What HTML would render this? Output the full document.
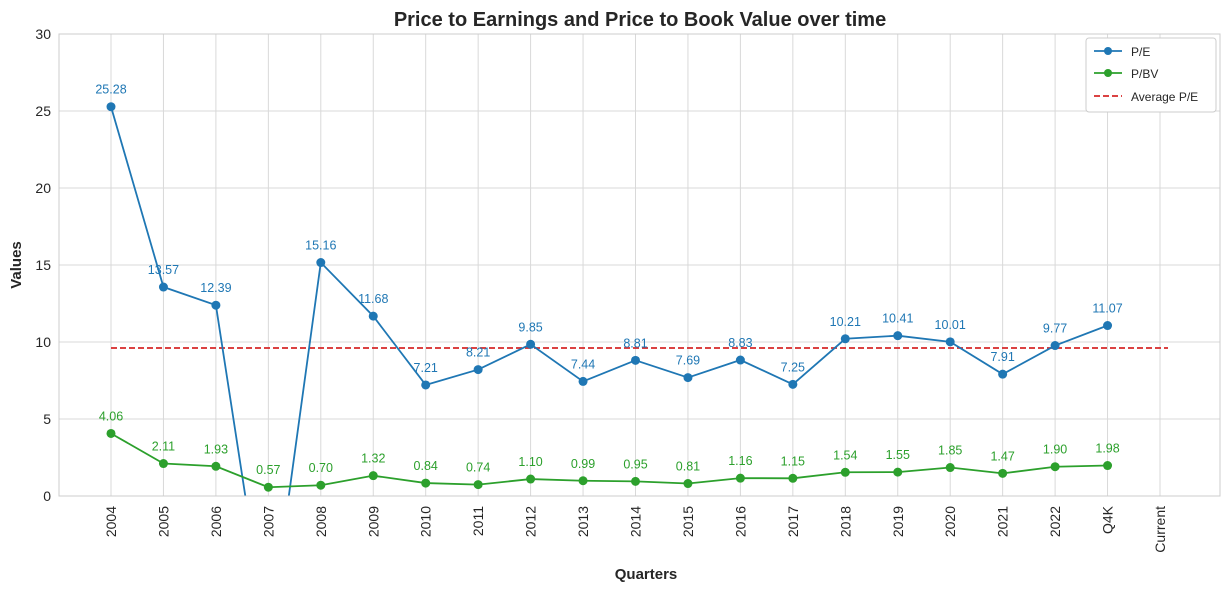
<!DOCTYPE html>
<html><head><meta charset="utf-8"><style>
html,body{margin:0;padding:0;overflow:hidden;background:#fff;font-family:"Liberation Sans",Arial,sans-serif;width:1231px;height:592px}
svg{display:block}
svg text{font-family:"Liberation Sans",Arial,sans-serif}
</style></head><body>
<svg id="chart" width="1231" height="592">
<text x="640" y="26" text-anchor="middle" font-size="20" font-weight="bold" fill="#262626">Price to Earnings and Price to Book Value over time</text>
<g id="grid"></g><g id="marks"></g><g id="axes"></g>
<text x="646" y="579" text-anchor="middle" font-size="15" font-weight="bold" fill="#262626">Quarters</text>
<text transform="translate(21,265) rotate(-90)" text-anchor="middle" font-size="15" font-weight="bold" fill="#262626">Values</text>
<g>
<rect x="1086" y="38" width="130" height="74" rx="3" fill="#fff" stroke="#ccc"/>
<line x1="1094" y1="51" x2="1122" y2="51" stroke="#1f77b4" stroke-width="1.8"/><circle cx="1108" cy="51" r="4" fill="#1f77b4"/>
<text x="1131" y="56" font-size="12" fill="#262626">P/E</text>
<line x1="1094" y1="73" x2="1122" y2="73" stroke="#2ca02c" stroke-width="1.8"/><circle cx="1108" cy="73" r="4" fill="#2ca02c"/>
<text x="1131" y="78" font-size="12" fill="#262626">P/BV</text>
<line x1="1094" y1="96" x2="1122" y2="96" stroke="#d62728" stroke-width="1.8" stroke-dasharray="6,3"/>
<text x="1131" y="101" font-size="12" fill="#262626">Average P/E</text>
</g>
</svg>
<script>
const categories=["2004","2005","2006","2007","2008","2009","2010","2011","2012","2013","2014","2015","2016","2017","2018","2019","2020","2021","2022","Q4K","Current"];
const peValues=[25.28,13.57,12.39,-9.7,15.16,11.68,7.21,8.21,9.85,7.44,8.81,7.69,8.83,7.25,10.21,10.41,10.01,7.91,9.77,11.07,null];
const pbvValues=[4.06,2.11,1.93,0.57,0.70,1.32,0.84,0.74,1.10,0.99,0.95,0.81,1.16,1.15,1.54,1.55,1.85,1.47,1.90,1.98,null];
const avgPE=9.61;
const yTicks=[0,5,10,15,20,25,30];
const NS="http://www.w3.org/2000/svg";
const L=59,R=1220,T=34,B=496;
const x=i=>111+i*(1160-111)/(categories.length-1);
const y=v=>B-(v/30)*(B-T);
function mk(tag,attrs,parent,text){const e=document.createElementNS(NS,tag);for(const k in attrs)e.setAttribute(k,attrs[k]);if(text!==undefined)e.textContent=text;parent.appendChild(e);return e;}
const grid=document.getElementById('grid'),marks=document.getElementById('marks'),axes=document.getElementById('axes');
yTicks.forEach(t=>{mk('line',{x1:L,x2:R,y1:y(t),y2:y(t),stroke:'#d9d9d9'},grid);
const tx=mk('text',{x:L-8,y:y(t)+5,'text-anchor':'end','font-size':14,fill:'#262626'},axes,t);

});
categories.forEach((c,i)=>{mk('line',{x1:x(i),x2:x(i),y1:T,y2:B,stroke:'#d9d9d9'},grid);
const tx=mk('text',{transform:`translate(${x(i)+5},${B+10}) rotate(-90)`,'text-anchor':'end','font-size':14,fill:'#262626'},axes,c);

});
mk('rect',{x:L,y:T,width:R-L,height:B-T,fill:'none',stroke:'#cccccc'},axes);
const g=mk('g',{},marks);
const avg=mk('line',{x1:x(0),x2:x(20)+8,y1:y(avgPE),y2:y(avgPE),stroke:'#d62728','stroke-width':1.8,'stroke-dasharray':'6,3'},g);


function series(vals,color,name){
// build segments clipped to v>=0
let segs=[],cur=[];
for(let i=0;i<vals.length;i++){
 const v=vals[i]; if(v==null)continue;
 const prevI=i-1, pv=prevI>=0?vals[prevI]:null;
 if(pv!=null && (pv<0)!==(v<0)){
  const f=pv/(pv-v); const xi=x(prevI)+f*(x(i)-x(prevI));
  if(v<0){cur.push([xi,y(0)]);segs.push(cur);cur=[];}
  else{cur=[[xi,y(0)]];}
 }
 if(v>=0)cur.push([x(i),y(v)]);
}
if(cur.length)segs.push(cur);
segs.forEach(s=>{
const pl=mk('polyline',{points:s.map(p=>p.join(',')).join(' '),fill:'none',stroke:color,'stroke-width':1.8},g);

});
vals.forEach((v,i)=>{if(v==null||v<0)return;
const c=mk('circle',{cx:x(i),cy:y(v),r:4.5,fill:color},g);


const t=mk('text',{x:x(i),y:y(v)-13,'text-anchor':'middle','font-size':12.5,fill:color},g,v.toFixed(2));

});}
series(peValues,'#1f77b4','pe');
series(pbvValues,'#2ca02c','pbv');
</script>
</body></html>
